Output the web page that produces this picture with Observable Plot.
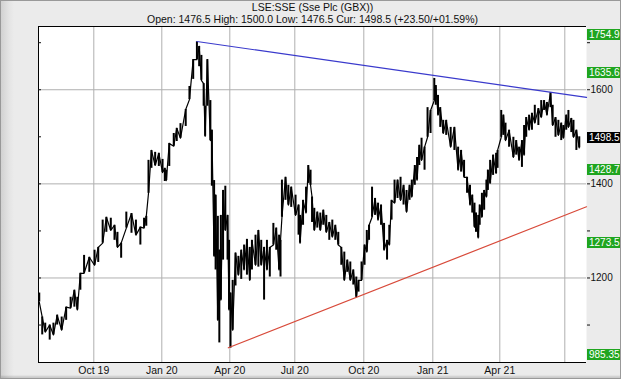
<!DOCTYPE html>
<html>
<head>
<meta charset="utf-8">
<script src="https://cdn.jsdelivr.net/npm/d3@7"></script>
<script src="https://cdn.jsdelivr.net/npm/@observablehq/plot@0.6"></script>
<style>
  html, body { margin: 0; padding: 0; background: #e9e9e9; }
  #wrap {
    position: relative; width: 621px; height: 379px; overflow: hidden;
    background: linear-gradient(to right, #cfcfcf 0px, #e4e4e4 9px, #ebebeb 14px, #ebebeb 100%);
    font-family: "Liberation Sans", Arial, sans-serif;
  }
  #wrap::after {
    content: ""; position: absolute; left: 0; top: 0; right: 0; bottom: 0;
    box-shadow: inset 0 0 0 1px #999, inset 0 -4px 2px -1px rgba(0,0,0,0.14);
    pointer-events: none;
  }
  .t { position: absolute; left: 0; width: 625px; text-align: center; color: #111; font-size: 10.5px; white-space: nowrap; }
  svg { position: absolute; left: 0; top: 0; }
  .lvl { position: absolute; left: 587px; width: 40px; height: 11px; line-height: 11px; font-size: 10px; color: #fff; padding-left: 2px; }
</style>
</head>
<body>
<div id="wrap">
  <div class="t" style="top:1px">LSE:SSE (Sse Plc (GBX))</div>
  <div class="t" style="top:13px">Open: 1476.5 High: 1500.0 Low: 1476.5 Cur: 1498.5 (+23.50/+01.59%)</div>
</div>
<script>
// ---- data ----
const dates = [
"2019-07-20","2019-07-24","2019-07-28","2019-08-03","2019-08-08","2019-08-13","2019-08-19","2019-08-25","2019-08-31","2019-09-05",
"2019-09-09","2019-09-13","2019-09-18","2019-09-25","2019-10-02","2019-10-07","2019-10-13","2019-10-18","2019-10-24","2019-10-29",
"2019-11-02","2019-11-07","2019-11-14","2019-11-21","2019-11-27","2019-12-03","2019-12-08","2019-12-11","2019-12-14","2019-12-18",
"2019-12-23","2019-12-28","2020-01-02","2020-01-05","2020-01-07","2020-01-11","2020-01-17","2020-01-21","2020-01-26","2020-02-02",
"2020-02-07","2020-02-12","2020-02-17","2020-02-20","2020-02-23","2020-02-26","2020-02-28","2020-03-02","2020-03-06","2020-03-08",
"2020-03-11","2020-03-13","2020-03-16","2020-03-18","2020-03-20","2020-03-23","2020-03-26","2020-03-29","2020-03-31","2020-04-02",
"2020-04-05","2020-04-09","2020-04-13","2020-04-17","2020-04-21","2020-04-25","2020-04-29","2020-05-02","2020-05-07","2020-05-11",
"2020-05-15","2020-05-19","2020-05-23","2020-05-27","2020-06-01","2020-06-05","2020-06-09","2020-06-11","2020-06-13","2020-06-18",
"2020-06-22","2020-06-26","2020-07-02","2020-07-06","2020-07-08","2020-07-12","2020-07-16","2020-07-19","2020-07-22","2020-07-24",
"2020-07-27","2020-07-31","2020-08-04","2020-08-08","2020-08-12","2020-08-16","2020-08-20","2020-08-24","2020-08-28","2020-09-01",
"2020-09-05","2020-09-09","2020-09-13","2020-09-17","2020-09-21","2020-09-24","2020-09-28","2020-10-02","2020-10-05","2020-10-08",
"2020-10-12","2020-10-16","2020-10-20","2020-10-24","2020-10-28","2020-11-01","2020-11-04","2020-11-07","2020-11-11","2020-11-15",
"2020-11-19","2020-11-23","2020-11-27","2020-12-01","2020-12-04","2020-12-08","2020-12-11","2020-12-14","2020-12-17","2020-12-21",
"2020-12-25","2020-12-29","2021-01-03","2021-01-05","2021-01-08","2021-01-11","2021-01-15","2021-01-19","2021-01-25","2021-01-30",
"2021-02-04","2021-02-08","2021-02-12","2021-02-16","2021-02-20","2021-02-23","2021-02-26","2021-02-28","2021-03-03","2021-03-05",
"2021-03-08","2021-03-11","2021-03-14","2021-03-16","2021-03-19","2021-03-23","2021-03-27","2021-03-29","2021-04-03","2021-04-06",
"2021-04-09","2021-04-14","2021-04-20","2021-04-24","2021-04-28","2021-05-02","2021-05-05","2021-05-08","2021-05-12","2021-05-16",
"2021-05-20","2021-05-25","2021-05-29","2021-06-02","2021-06-06","2021-06-11","2021-06-14","2021-06-18","2021-06-22","2021-06-26",
"2021-06-29","2021-07-03","2021-07-06","2021-07-10","2021-07-13","2021-07-17","2021-07-21"
];
const lows = [
1149,1079,1085,1068,1079,1100,1089,1110,1136,1138,
1132,1174,1210,1212,1227,1233,1274,1297,1301,1280,
1265,1242,1306,1295,1291,1270,1306,1310,1380,1433,
1439,1437,1424,1405,1407,1437,1480,1490,1497,1522,
1579,1622,1664,1649,1620,1565,1501,1565,1492,1395,
1246,1217,1110,1062,1153,1238,1301,1238,1132,1051,
1089,1183,1206,1197,1217,1206,1195,1217,1227,1223,
1227,1153,1217,1202,1270,1259,1217,1202,1329,1365,
1355,1350,1333,1291,1274,1312,1338,1401,1397,1318,
1301,1306,1301,1312,1297,1280,1287,1280,1270,1227,
1195,1212,1195,1185,1159,1170,1195,1227,1255,1280,
1329,1333,1323,1312,1259,1238,1270,1323,1359,1369,
1365,1355,1340,1365,1372,1397,1408,1439,1450,1429,
1499,1507,1577,1567,1546,1520,1507,1503,1478,1471,
1429,1425,1414,1380,1355,1338,1308,1297,1285,1312,
1329,1344,1372,1386,1401,1418,1422,1433,1499,1503,
1492,1478,1456,1461,1450,1435,1461,1499,1514,1514,
1529,1524,1541,1556,1546,1562,1524,1499,1503,1492,
1497,1514,1520,1509,1499,1471,1476.5
];
const highs = [
1168,1117,1104,1100,1104,1121,1117,1138,1159,1174,
1159,1210,1248,1244,1259,1265,1323,1329,1327,1312,
1297,1274,1340,1337,1323,1308,1327,1331,1450,1471,
1467,1465,1452,1433,1429,1486,1507,1518,1528,1558,
1607,1664,1702,1692,1673,1613,1565,1664,1577,1514,
1407,1376,1331,1259,1333,1386,1395,1333,1280,1168,
1195,1253,1246,1259,1270,1282,1265,1280,1291,1301,
1280,1265,1280,1265,1316,1306,1291,1280,1408,1414,
1397,1393,1376,1355,1333,1365,1393,1439,1429,1372,
1348,1340,1338,1344,1333,1318,1323,1312,1297,1265,
1255,1238,1234,1217,1202,1195,1234,1270,1301,1312,
1393,1369,1359,1355,1316,1280,1312,1365,1408,1408,
1414,1397,1386,1397,1408,1439,1456,1482,1497,1478,
1562,1556,1624,1609,1588,1562,1535,1535,1520,1520,
1478,1471,1450,1414,1397,1376,1359,1338,1333,1355,
1380,1386,1408,1429,1450,1461,1465,1471,1556,1546,
1529,1514,1499,1492,1478,1492,1524,1541,1546,1550,
1567,1560,1577,1577,1573,1594,1567,1541,1535,1529,
1524,1546,1556,1539,1535,1514,1500
];
const trendHighDates = ["2020-02-17", "2021-07-31"];
const trendHighValues = [1702.5, 1583.7];
const trendLowDates = ["2020-03-30", "2021-07-31"];
const trendLowValues = [1051.7, 1351.3];
const levelValues = [1754.9, 1635.6, 1498.5, 1428.7, 1273.5, 985.35];
const currentPrice = 1498.5;
const yTickValues = [1100, 1200, 1300, 1400, 1500, 1600, 1700];
const yLabelValues = [1200, 1400, 1600];
const quarterDates = ["2019-10-01","2020-01-01","2020-04-01","2020-07-01","2020-10-01","2021-01-01","2021-04-01","2021-07-01"];
const quarterLabels = ["Oct 19","Jan 20","Apr 20","Jul 20","Oct 20","Jan 21","Apr 21",""];
const xDomainDates = ["2019-07-19","2019-10-01","2020-01-01","2020-04-01","2020-07-01","2020-10-01","2021-01-01","2021-04-01","2021-07-01","2021-07-31"];
const yDomain = [1020.4, 1734.4];

// ---- build ----
const P = s => new Date(s + "T00:00:00Z");
const bars = dates.map((d, i) => ({date: P(d), lo: lows[i], hi: highs[i]}));
const zig = bars.map((b, i) => ({date: b.date, v: i % 2 ? b.hi : b.lo}));
const tHigh = trendHighDates.map((d, i) => ({date: P(d), v: trendHighValues[i]}));
const tLow = trendLowDates.map((d, i) => ({date: P(d), v: trendLowValues[i]}));
const qd = quarterDates.map(P);
const labelMap = new Map(qd.map((d, i) => [+d, quarterLabels[i]]));

const chart = Plot.plot({
  width: 621, height: 379,
  marginLeft: 38, marginRight: 35, marginTop: 26, marginBottom: 17,
  style: {background: "transparent", fontFamily: "'Liberation Sans', Arial, sans-serif", fontSize: "10.5px", color: "#111"},
  x: {type: "utc", domain: xDomainDates.map(P), range: [38, 93.3, 161.3, 229.3, 294.3, 363.3, 432.3, 499.3, 564.3, 586]},
  y: {domain: yDomain},
  marks: [
    Plot.frame({fill: "white", stroke: null}),
    Plot.gridX({ticks: qd, stroke: "#b0b0b0", strokeOpacity: 1}),
    Plot.gridY({ticks: yLabelValues, stroke: "#b0b0b0", strokeOpacity: 1}),
    Plot.ruleX(bars, {x: "date", y1: "lo", y2: "hi", stroke: "black", strokeWidth: 2}),
    Plot.line(zig, {x: "date", y: "v", stroke: "black", strokeWidth: 1.2}),
    Plot.line(tHigh, {x: "date", y: "v", stroke: "#3a3acc", strokeWidth: 1.2}),
    Plot.line(tLow, {x: "date", y: "v", stroke: "#d84a3a", strokeWidth: 1.2}),
    Plot.ruleX([P(xDomainDates[0])], {stroke: "black"}),
    Plot.ruleY(yDomain, {stroke: "black"}),
    Plot.axisX({ticks: qd, tickSize: 0, tickPadding: 4, tickFormat: d => labelMap.get(+d), label: null, fontSize: "10.5px"}),
    Plot.axisY({anchor: "right", ticks: yTickValues, tickSize: 3, tickPadding: 1, tickFormat: d => yLabelValues.includes(d) ? String(d) : "", label: null, fontSize: "10px"}),
    Plot.axisY({anchor: "left", ticks: yTickValues, tickSize: 3, dx: 3, tickFormat: () => "", label: null})
  ]
});
const wrap = document.getElementById("wrap");
wrap.insertBefore(chart, wrap.firstChild);

const ys = chart.scale("y");
for (const v of levelValues) {
  const py = Math.max(34, Math.min(354, ys.apply(v)));
  const div = document.createElement("div");
  div.className = "lvl";
  div.style.top = (py - 5.5) + "px";
  div.style.background = v === currentPrice ? "#000" : "#1fa51f";
  div.textContent = String(v);
  wrap.appendChild(div);
}
</script>
</body>
</html>
